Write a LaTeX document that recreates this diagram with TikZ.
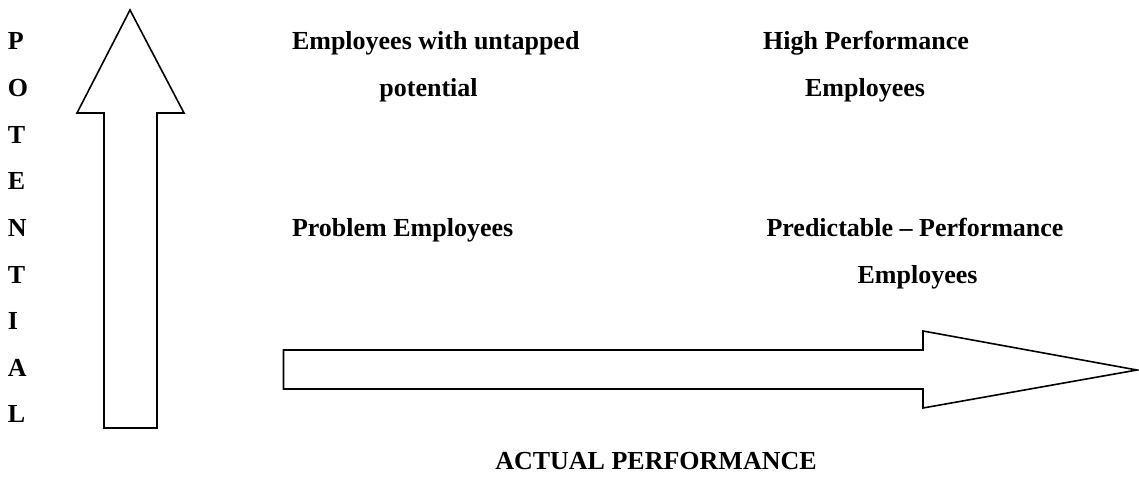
\documentclass[tikz,border=0pt]{standalone}
\usepackage{fontspec}
\setmainfont{Liberation Serif}
\begin{document}
\begin{tikzpicture}[x=1pt,y=-1pt,
  lbl/.style={font=\fontsize{26}{30}\selectfont\bfseries, inner sep=0pt, outer sep=0pt},
  blockarrow/.style={draw=black, line width=1.6pt, line join=miter, fill=white}]
\useasboundingbox (0,0) rectangle (1139,484);
% vertical POTENTIAL letters
\foreach \ch [count=\i from 0] in {P,O,T,E,N,T,I,A,L}{
  \node[lbl, anchor=base west] (v\i) at (8,{50+46.6*\i}) {\ch};
}
% up arrow
\draw[blockarrow] (130,10) -- (184,113) -- (157,113) -- (157,428) -- (104,428) -- (104,113) -- (77,113) -- cycle;
% right arrow
\draw[blockarrow] (283.5,350) -- (923,350) -- (923,331) -- (1137,370) -- (923,408) -- (923,389) -- (283.5,389) -- cycle;
% quadrant labels
\node[lbl, anchor=base west] (ul1) at (292,50) {Employees with untapped};
\node[lbl, anchor=base] (ul2) at (428.5,96.6) {potential};
\node[lbl, anchor=base] (ur1) at (866,50) {High Performance};
\node[lbl, anchor=base] (ur2) at (865,96.6) {Employees};
\node[lbl, anchor=base west] (ll1) at (292,236.4) {Problem Employees};
\node[lbl, anchor=base] (lr1) at (915,236.4) {Predictable – Performance};
\node[lbl, anchor=base] (lr2) at (917.5,283) {Employees};
\node[lbl, anchor=base] (xlab) at (656,469.4) {ACTUAL PERFORMANCE};
\end{tikzpicture}
\end{document}
